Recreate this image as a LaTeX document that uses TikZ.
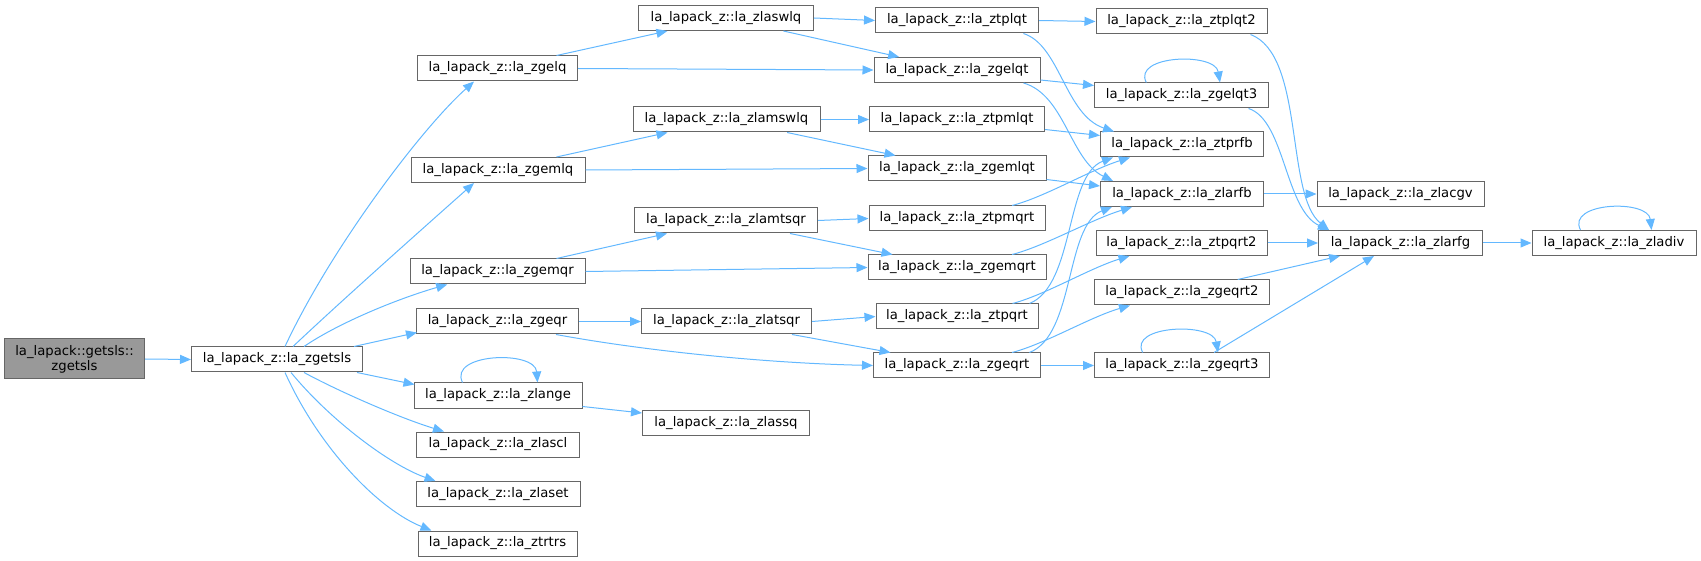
\documentclass[tikz,border=0pt]{standalone}
\usepackage{fontspec}
\setmainfont{DejaVu Sans}
\usetikzlibrary{arrows.meta,calc}
\definecolor{edgeblue}{HTML}{63B8FF}
\definecolor{nodeborder}{HTML}{666666}
\definecolor{rootfill}{HTML}{999999}
\begin{document}
\begin{tikzpicture}[x=1pt,y=-1pt,
 fn/.style={draw=nodeborder,fill=white,line width=1pt,minimum height=25pt,inner sep=0pt,font=\fontsize{13.2}{15}\selectfont},
 rootn/.style={fn,fill=rootfill,minimum height=40pt,align=center},
 edge/.style={draw=edgeblue,line width=1pt,-{Triangle[length=11pt,width=9pt]}}]
\useasboundingbox (0,0) rectangle (1701,561);
% column 0/1
\node[rootn,minimum width=140pt] (root) at (74.5,359) {la\_lapack::getsls::\\zgetsls};
\node[fn,minimum width=171pt] (zgetsls) at (277,359.5) {la\_lapack\_z::la\_zgetsls};
% column 2
\node[fn,minimum width=160pt] (zgelq) at (497.5,68.5) {la\_lapack\_z::la\_zgelq};
\node[fn,minimum width=174pt] (zgemlq) at (498,170) {la\_lapack\_z::la\_zgemlq};
\node[fn,minimum width=175pt] (zgemqr) at (497.5,271.5) {la\_lapack\_z::la\_zgemqr};
\node[fn,minimum width=162pt] (zgeqr) at (497.5,321.5) {la\_lapack\_z::la\_zgeqr};
\node[fn,minimum width=168pt] (zlange) at (498,395.5) {la\_lapack\_z::la\_zlange};
\node[fn,minimum width=163pt] (zlascl) at (498,444.5) {la\_lapack\_z::la\_zlascl};
\node[fn,minimum width=164pt] (zlaset) at (498,494) {la\_lapack\_z::la\_zlaset};
\node[fn,minimum width=159pt] (ztrtrs) at (497.5,543.5) {la\_lapack\_z::la\_ztrtrs};
% column 3
\node[fn,minimum width=175pt] (zlaswlq) at (726,18) {la\_lapack\_z::la\_zlaswlq};
\node[fn,minimum width=187pt] (zlamswlq) at (726.5,119.5) {la\_lapack\_z::la\_zlamswlq};
\node[fn,minimum width=183pt] (zlamtsqr) at (726,220.5) {la\_lapack\_z::la\_zlamtsqr};
\node[fn,minimum width=170pt] (zlatsqr) at (726.5,321.5) {la\_lapack\_z::la\_zlatsqr};
\node[fn,minimum width=167pt] (zlassq) at (726,423) {la\_lapack\_z::la\_zlassq};
% column 4
\node[fn,minimum width=163pt] (ztplqt) at (957,20.5) {la\_lapack\_z::la\_ztplqt};
\node[fn,minimum width=166pt] (zgelqt) at (957,70) {la\_lapack\_z::la\_zgelqt};
\node[fn,minimum width=175pt] (ztpmlqt) at (957,119.5) {la\_lapack\_z::la\_ztpmlqt};
\node[fn,minimum width=178pt] (zgemlqt) at (957,168.5) {la\_lapack\_z::la\_zgemlqt};
\node[fn,minimum width=176pt] (ztpmqrt) at (957,218.5) {la\_lapack\_z::la\_ztpmqrt};
\node[fn,minimum width=178pt] (zgemqrt) at (957,267.5) {la\_lapack\_z::la\_zgemqrt};
\node[fn,minimum width=162pt] (ztpqrt) at (957,316.5) {la\_lapack\_z::la\_ztpqrt};
\node[fn,minimum width=167pt] (zgeqrt) at (957,365.5) {la\_lapack\_z::la\_zgeqrt};
% column 5
\node[fn,minimum width=171pt] (ztplqt2) at (1181.5,21.5) {la\_lapack\_z::la\_ztplqt2};
\node[fn,minimum width=174pt] (zgelqt3) at (1181.5,95.5) {la\_lapack\_z::la\_zgelqt3};
\node[fn,minimum width=163pt] (ztprfb) at (1182,144.5) {la\_lapack\_z::la\_ztprfb};
\node[fn,minimum width=163pt] (zlarfb) at (1182,194) {la\_lapack\_z::la\_zlarfb};
\node[fn,minimum width=171pt] (ztpqrt2) at (1181.5,243) {la\_lapack\_z::la\_ztpqrt2};
\node[fn,minimum width=175pt] (zgeqrt2) at (1182,292.5) {la\_lapack\_z::la\_zgeqrt2};
\node[fn,minimum width=175pt] (zgeqrt3) at (1182,365.5) {la\_lapack\_z::la\_zgeqrt3};
% column 6/7
\node[fn,minimum width=167pt] (zlacgv) at (1400.5,194) {la\_lapack\_z::la\_zlacgv};
\node[fn,minimum width=164pt] (zlarfg) at (1400.5,243) {la\_lapack\_z::la\_zlarfg};
\node[fn,minimum width=164pt] (zladiv) at (1614,243) {la\_lapack\_z::la\_zladiv};

% edges from root and zgetsls
\draw[edge] (root.east) -- (zgetsls.west);
\draw[edge] ($(zgetsls.north west)+(94,0)$) .. controls (330,250) and (420,130) .. ($(zgelq.south west)+(57,0)$);
\draw[edge] ($(zgetsls.north west)+(102,0)$) .. controls (340,302) and (430,222) .. ($(zgemlq.south west)+(63.5,0)$);
\draw[edge] ($(zgetsls.north west)+(113,0)$) .. controls (340,322) and (400,298) .. ($(zgemqr.south west)+(37.7,0)$);
\draw[edge] ($(zgetsls.north east)+(-9,0)$) -- ($(zgeqr.south west)+(1,-2)$);
\draw[edge] ($(zgetsls.south east)+(-6,0)$) -- ($(zlange.north west)+(1,2)$);
\draw[edge] ($(zgetsls.south west)+(113,0)$) .. controls (340,392) and (400,418) .. ($(zlascl.north west)+(28,0)$);
\draw[edge] ($(zgetsls.south west)+(100,0)$) .. controls (330,420) and (390,465) .. ($(zlaset.north west)+(20,0)$);
\draw[edge] ($(zgetsls.south west)+(94,0)$) .. controls (320,450) and (380,510) .. ($(ztrtrs.north west)+(14,0)$);
% column 2 edges
\draw[edge] ($(zgelq.north west)+(139.5,0)$) -- ($(zlaswlq.south west)+(29.4,0)$);
\draw[edge] (zgelq.east) -- (zgelqt.west);
\draw[edge] ($(zgemlq.north west)+(146,0)$) -- ($(zlamswlq.south west)+(35,0)$);
\draw[edge] (zgemlq.east) -- (zgemlqt.west);
\draw[edge] ($(zgemqr.north west)+(147,0)$) -- ($(zlamtsqr.south west)+(33,0)$);
\draw[edge] (zgemqr.east) -- (zgemqrt.west);
\draw[edge] (zgeqr.east) -- (zlatsqr.west);
\draw[edge] ($(zgeqr.south west)+(140,0)$) .. controls (640,350) and (760,363) .. (zgeqrt.west);
\draw[edge] ($(zlange.north west)+(49,0)$) .. controls (448,353) and (535,350) .. ($(zlange.north west)+(124,0)$);
\draw[edge] ($(zlange.south east)+(0,-2)$) -- ($(zlassq.north west)+(0,3)$);
% column 3 edges
\draw[edge] (zlaswlq.east) -- (ztplqt.west);
\draw[edge] ($(zlaswlq.south west)+(145.4,0)$) -- ($(zgelqt.north west)+(25.7,0)$);
\draw[edge] (zlamswlq.east) -- (ztpmlqt.west);
\draw[edge] ($(zlamswlq.south west)+(154.6,0)$) -- ($(zgemlqt.north west)+(28,0)$);
\draw[edge] (zlamtsqr.east) -- (ztpmqrt.west);
\draw[edge] ($(zlamtsqr.south west)+(156,0)$) -- ($(zgemqrt.north west)+(25,0)$);
\draw[edge] (zlatsqr.east) -- (ztpqrt.west);
\draw[edge] ($(zlatsqr.south west)+(151,0)$) -- ($(zgeqrt.north west)+(17.5,0)$);
% column 4 edges
\draw[edge] (ztplqt.east) -- (ztplqt2.west);
\draw[edge] ($(ztplqt.south east)+(-15.6,0)$) .. controls (1060,45) and (1065,115) .. ($(ztprfb.north west)+(14,0)$);
\draw[edge] ($(zgelqt.south east)+(0,-3)$) -- ($(zgelqt3.north west)+(0,3)$);
\draw[edge] ($(zgelqt.south east)+(-17,0)$) .. controls (1065,95) and (1070,160) .. ($(zlarfb.north west)+(13,0)$);
\draw[edge] ($(ztpmlqt.south east)+(0,-3)$) -- ($(ztprfb.north west)+(0,4)$);
\draw[edge] ($(zgemlqt.south east)+(0,-2)$) -- ($(zlarfb.north west)+(0,5)$);
\draw[edge] ($(ztpmqrt.north west)+(143.6,0)$) .. controls (1045,197) and (1090,170) .. ($(ztprfb.south west)+(30,0)$);
\draw[edge] ($(zgemqrt.north west)+(144.6,0)$) .. controls (1045,246) and (1090,220) .. ($(zlarfb.south west)+(32,0)$);
\draw[edge] ($(ztpqrt.north west)+(137,0)$) .. controls (1045,295) and (1090,268) .. ($(ztpqrt2.south west)+(34,0)$);
\draw[edge] ($(ztpqrt.north west)+(154,0)$) .. controls (1075,285) and (1065,175) .. ($(ztprfb.south west)+(13,0)$);
\draw[edge] ($(zgeqrt.north west)+(139,0)$) .. controls (1045,344) and (1090,317) .. ($(zgeqrt2.south west)+(36,0)$);
\draw[edge] ($(zgeqrt.north west)+(156.4,0)$) .. controls (1075,335) and (1065,225) .. ($(zlarfb.south west)+(12,0)$);
\draw[edge] (zgeqrt.east) -- (zgeqrt3.west);
% column 5 edges
\draw[edge] ($(ztplqt2.south east)+(-17,0)$) .. controls (1305,55) and (1285,195) .. ($(zlarfg.north west)+(11,0)$);
\draw[edge] ($(zgelqt3.north west)+(52.3,0)$) .. controls (1132,55) and (1215,52) .. ($(zgelqt3.north west)+(126,0)$);
\draw[edge] ($(zgelqt3.south east)+(-20.5,0)$) .. controls (1285,120) and (1285,210) .. ($(zlarfg.north west)+(11,0)$);
\draw[edge] (zlarfb.east) -- (zlacgv.west);
\draw[edge] (ztpqrt2.east) -- (zlarfg.west);
\draw[edge] ($(zgeqrt2.north west)+(143.7,0)$) -- ($(zlarfg.south west)+(22,0)$);
\draw[edge] ($(zgeqrt3.north west)+(48.7,0)$) .. controls (1128,325) and (1213,322) .. ($(zgeqrt3.north west)+(124,0)$);
\draw[edge] ($(zgeqrt3.north west)+(120,0)$) -- ($(zlarfg.south west)+(56,0)$);
% column 6/7 edges
\draw[edge] (zlarfg.east) -- (zladiv.west);
\draw[edge] ($(zladiv.north west)+(49,0)$) .. controls (1566,202) and (1648,199) .. ($(zladiv.north west)+(120,0)$);
\end{tikzpicture}
\end{document}
